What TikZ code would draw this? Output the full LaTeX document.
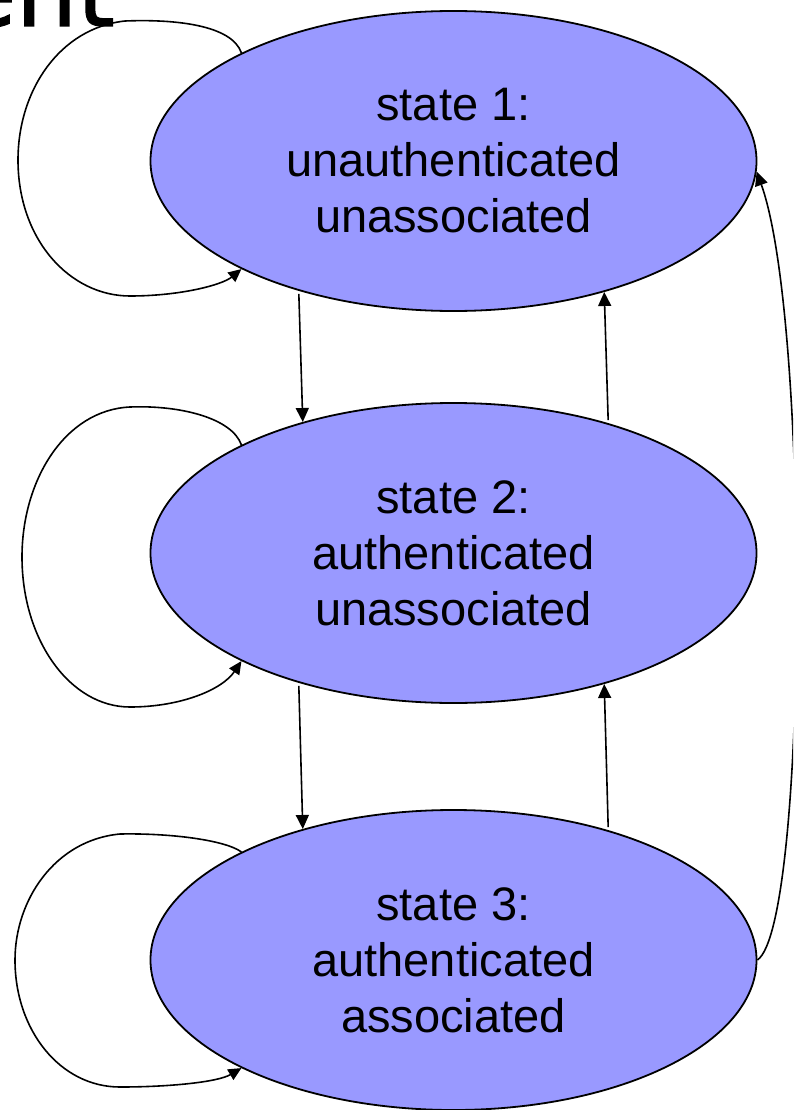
\documentclass[tikz,border=0pt]{standalone}
\usepackage{fontspec}
\setmainfont{Liberation Sans}
\newfontfamily\titlefont[FakeBold=1.5]{DejaVu Sans}
\usetikzlibrary{shapes.geometric,arrows.meta}
\tikzset{
  statenode/.style={ellipse, draw=black, line width=1.8pt, fill=stfill,
    minimum width=606pt, minimum height=300pt, inner sep=0pt,
    align=center, font=\fontsize{47}{56}\selectfont},
  arr/.style={line width=1.6pt, -{Triangle[length=14pt,width=13pt]}},
  looparr/.style={line width=1.6pt, -{Triangle[length=13pt,width=12pt]}}
}
\definecolor{stfill}{HTML}{9999FF}
\begin{document}
\begin{tikzpicture}[x=1pt,y=-1pt]
\useasboundingbox (0,0) rectangle (793,1110);
\begin{scope}
\clip (0,0) rectangle (793,1110);
\node[anchor=base west, inner sep=0pt, font=\titlefont\fontsize{96}{110}\selectfont] (title) at (-43,26) {ent};
\node[statenode] (s1) at (453.5,161) {state 1:\\unauthenticated\\unassociated};
\node[statenode] (s2) at (453.5,553) {state 2:\\authenticated\\unassociated};
\node[statenode] (s3) at (453.5,960) {state 3:\\authenticated\\associated};
% vertical transitions
\draw[arr, shorten <=3pt] (s1.220.85) -- (s2.139.15);
\draw[arr, shorten <=3pt] (s2.40.85) -- (s1.319.15);
\draw[arr, shorten <=3pt] (s2.220.85) -- (s3.139.15);
\draw[arr, shorten <=3pt] (s3.40.85) -- (s2.319.15);
% long return arc
\draw[arr] (s3.east) .. controls (808,925) and (810,320) .. (s1.358);
% self loops
\draw[looparr] (s1.153) .. controls (232,25) and (175,19) .. (125,21)
  .. controls (60,28) and (18,90) .. (18,160)
  .. controls (18,240) and (70,296) .. (130,296)
  .. controls (180,296) and (222,285) .. (s1.207);
\draw[looparr] (s2.153) .. controls (232,418) and (180,405) .. (130,407)
  .. controls (65,410) and (22,480) .. (22,557)
  .. controls (22,640) and (70,707) .. (130,707)
  .. controls (180,707) and (222,690) .. (s2.207);
\draw[looparr] (s3.153) .. controls (225,840) and (170,833) .. (120,834)
  .. controls (55,840) and (15,900) .. (15,960)
  .. controls (15,1030) and (60,1087) .. (120,1087)
  .. controls (170,1087) and (218,1082) .. (s3.207);
\end{scope}
\end{tikzpicture}
\end{document}
